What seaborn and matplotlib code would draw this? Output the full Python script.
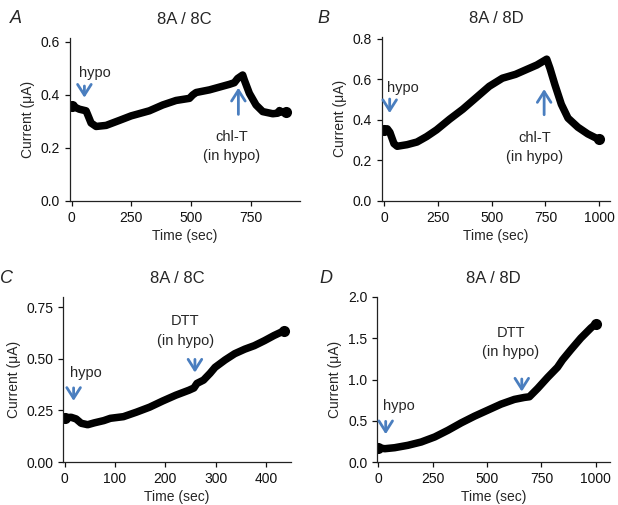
import numpy as np
import pandas as pd
import matplotlib
matplotlib.use('Agg')
import matplotlib.pyplot as plt
import seaborn as sns

# Panel A: 8A / 8C, hypo then chl-T
time_a = [0, 32, 60, 67, 81, 102, 144, 200, 249, 325, 381, 437, 493, 507, 521,
          577, 661, 681, 695, 716, 723, 744, 772, 800, 842, 863, 870, 884, 898]
curr_a = [0.359, 0.346, 0.340, 0.325, 0.294, 0.281, 0.285, 0.304, 0.321, 0.340,
          0.362, 0.379, 0.387, 0.400, 0.409, 0.419, 0.440, 0.446, 0.462, 0.475,
          0.456, 0.406, 0.362, 0.337, 0.329, 0.331, 0.341, 0.334, 0.334]

# Panel B: 8A / 8D, hypo then chl-T
time_b = [0, 15, 27, 46, 61, 107, 153, 198, 244, 305, 366, 427, 489, 550, 611,
          656, 710, 756, 771, 794, 824, 855, 901, 947, 992, 1000]
curr_b = [0.351, 0.356, 0.339, 0.283, 0.270, 0.278, 0.291, 0.318, 0.351, 0.404,
          0.453, 0.509, 0.566, 0.606, 0.625, 0.646, 0.671, 0.700, 0.655, 0.574,
          0.477, 0.409, 0.364, 0.331, 0.307, 0.307]

# Panel C: 8A / 8C, hypo then DTT
time_c = [0, 13, 23, 33, 46, 59, 78, 91, 117, 143, 169, 195, 221, 247, 257, 263,
          276, 289, 299, 319, 338, 358, 377, 397, 416, 436]
curr_c = [0.214, 0.217, 0.209, 0.188, 0.181, 0.190, 0.201, 0.212, 0.220, 0.242,
          0.266, 0.296, 0.324, 0.348, 0.359, 0.381, 0.397, 0.430, 0.459, 0.495,
          0.525, 0.547, 0.564, 0.588, 0.613, 0.636]

# Panel D: 8A / 8D, hypo then DTT
time_d = [0, 31, 76, 137, 198, 260, 321, 382, 443, 504, 565, 626, 672, 695, 733,
          779, 824, 847, 885, 931, 977, 1000]
curr_d = [0.174, 0.162, 0.174, 0.203, 0.243, 0.304, 0.385, 0.475, 0.556, 0.629,
          0.702, 0.759, 0.783, 0.791, 0.892, 1.026, 1.148, 1.237, 1.359, 1.501,
          1.623, 1.675]

sns.set_style('ticks')
plt.rcParams['font.family'] = ['Liberation Sans', 'DejaVu Sans']

blue = '#4a7ebf'
fig = plt.figure(figsize=(6.18, 5.05), dpi=100)

panels = [
    # letter, title, t, y, rect, xlim, ylim, xticks, yticks, yfmt
    ('A', '8A / 8C', time_a, curr_a, [0.113, 0.602, 0.372, 0.323], (-8, 955), (0, 0.615),
     [0, 250, 500, 750], [0.0, 0.2, 0.4, 0.6], '{:.1f}'),
    ('B', '8A / 8D', time_b, curr_b, [0.618, 0.602, 0.369, 0.325], (-10, 1050), (0, 0.81),
     [0, 250, 500, 750, 1000], [0.0, 0.2, 0.4, 0.6, 0.8], '{:.1f}'),
    ('C', '8A / 8C', time_c, curr_c, [0.102, 0.085, 0.369, 0.327], (-3, 450), (0, 0.80),
     [0, 100, 200, 300, 400], [0.0, 0.25, 0.5, 0.75], '{:.2f}'),
    ('D', '8A / 8D', time_d, curr_d, [0.610, 0.085, 0.377, 0.327], (-5, 1065), (0, 2.0),
     [0, 250, 500, 750, 1000], [0.0, 0.5, 1.0, 1.5, 2.0], '{:.1f}'),
]

axes = {}
for letter, title, t, y, rect, xlim, ylim, xt, yt, yfmt in panels:
    ax = fig.add_axes(rect)
    df = pd.DataFrame({'Time': t, 'Current': y})
    sns.lineplot(x='Time', y='Current', data=df, ax=ax, color='black', lw=5.4,
                 marker='o', markersize=8, markeredgewidth=0, markevery=[0, len(t) - 1],
                 sort=False, solid_capstyle='round', solid_joinstyle='round')
    ax.set_xlim(*xlim)
    ax.set_ylim(*ylim)
    ax.set_xticks(xt)
    ax.set_yticks(yt)
    ax.set_yticklabels([yfmt.format(v) for v in yt])
    ax.tick_params(labelsize=10, length=3.5, width=0.9, colors='#111111')
    for s in ['left', 'bottom']:
        ax.spines[s].set_linewidth(0.9)
        ax.spines[s].set_color('#222222')
    sns.despine(ax=ax)
    ax.set_xlabel('Time (sec)', fontsize=10, labelpad=3)
    ax.set_ylabel('Current (μA)', fontsize=10, labelpad=4)
    ax.set_title(title, fontsize=12, pad=10)
    axes[letter] = ax

# panel letters
for letter, x, y in [('A', 0.026, 0.98), ('B', 0.524, 0.98), ('C', 0.010, 0.465), ('D', 0.528, 0.465)]:
    fig.text(x, y, letter, fontsize=13, style='italic', ha='center', va='top')

arrow_kw = dict(arrowstyle='->,head_length=0.55,head_width=0.35', color=blue, lw=2.0,
                mutation_scale=14)
ann_fs = 10.5

def mark(ax, xy_tip, xy_tail, label, xy_label):
    ax.annotate('', xy=xy_tip, xytext=xy_tail, arrowprops=arrow_kw)
    ax.text(*xy_label, label, fontsize=ann_fs, ha='center', va='center', linespacing=1.5)

ax = axes['A']
mark(ax, (53, 0.379), (53, 0.444), 'hypo', (95, 0.481))
mark(ax, (698, 0.4375), (698, 0.316), 'chl-T\n(in hypo)', (670, 0.205))

ax = axes['B']
mark(ax, (26, 0.42), (26, 0.517), 'hypo', (87, 0.557))
mark(ax, (744, 0.566), (744, 0.412), 'chl-T\n(in hypo)', (700, 0.265))

ax = axes['C']
mark(ax, (18, 0.283), (18, 0.373), 'hypo', (42, 0.433))
mark(ax, (259, 0.42), (259, 0.511), 'DTT\n(in hypo)', (240, 0.634))

ax = axes['D']
mark(ax, (35, 0.304), (35, 0.527), 'hypo', (95, 0.677))
mark(ax, (660, 0.82), (660, 1.04), 'DTT\n(in hypo)', (610, 1.45))

plt.savefig('out.png', dpi=100)
